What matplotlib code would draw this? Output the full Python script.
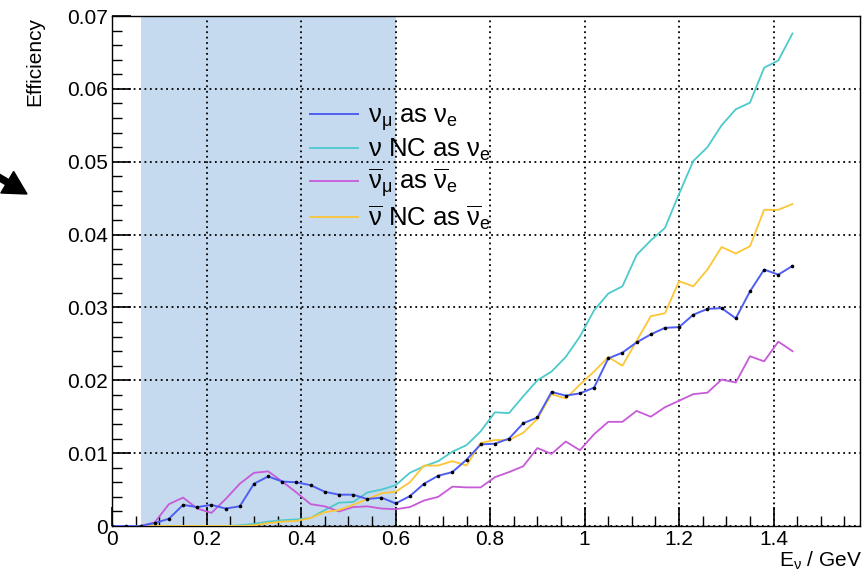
import numpy as np
import matplotlib
matplotlib.use("Agg")
import matplotlib.pyplot as plt
from matplotlib.ticker import MultipleLocator, FuncFormatter
from matplotlib.patches import FancyArrow
from matplotlib.transforms import IdentityTransform

plt.rcParams['font.family'] = ['Liberation Sans', 'DejaVu Sans']
plt.rcParams['mathtext.fontset'] = 'custom'
plt.rcParams['mathtext.rm'] = 'Liberation Sans'
plt.rcParams['mathtext.it'] = 'Liberation Sans'

# neutrino energy (GeV), one value per bin
energy = [0.00, 0.03, 0.06, 0.09, 0.12, 0.15, 0.18, 0.21, 0.24, 0.27,
          0.30, 0.33, 0.36, 0.39, 0.42, 0.45, 0.48, 0.51, 0.54, 0.57,
          0.60, 0.63, 0.66, 0.69, 0.72, 0.75, 0.78, 0.81, 0.84, 0.87,
          0.90, 0.93, 0.96, 0.99, 1.02, 1.05, 1.08, 1.11, 1.14, 1.17,
          1.20, 1.23, 1.26, 1.29, 1.32, 1.35, 1.38, 1.41, 1.44]

numu_as_nue = [0, 0, 0, 0.0004, 0.0010, 0.0029, 0.0026, 0.0029, 0.0024, 0.0027,
               0.0058, 0.0068, 0.0061, 0.0060, 0.0056, 0.0047, 0.0043, 0.0043, 0.0037, 0.0039,
               0.0031, 0.0041, 0.0058, 0.0069, 0.0074, 0.0091, 0.0112, 0.0113, 0.0120, 0.0141,
               0.0149, 0.0184, 0.0179, 0.0182, 0.0190, 0.0230, 0.0238, 0.0252, 0.0263, 0.0272,
               0.0273, 0.0290, 0.0298, 0.0299, 0.0285, 0.0322, 0.0352, 0.0345, 0.0357]

nc_as_nue = [0, 0, 0, 0, 0, 0, 0, 0, 0, 0.0001,
             0.0003, 0.0006, 0.0008, 0.0009, 0.0011, 0.0022, 0.0032, 0.0033, 0.0046, 0.0050,
             0.0056, 0.0073, 0.0082, 0.0089, 0.0102, 0.0111, 0.0130, 0.0156, 0.0155, 0.0178,
             0.0200, 0.0212, 0.0232, 0.0260, 0.0296, 0.0319, 0.0329, 0.0372, 0.0392, 0.0409,
             0.0456, 0.0501, 0.0520, 0.0550, 0.0572, 0.0581, 0.0629, 0.0639, 0.0676]

numubar_as_nuebar = [0, 0, 0, 0.0005, 0.0030, 0.0039, 0.0024, 0.0018, 0.0037, 0.0058,
                     0.0073, 0.0075, 0.0061, 0.0046, 0.0030, 0.0027, 0.0020, 0.0026, 0.0027, 0.0024,
                     0.0023, 0.0026, 0.0035, 0.0040, 0.0054, 0.0053, 0.0053, 0.0067, 0.0074, 0.0082,
                     0.0107, 0.0099, 0.0116, 0.0104, 0.0126, 0.0143, 0.0143, 0.0158, 0.0150, 0.0163,
                     0.0172, 0.0181, 0.0183, 0.0201, 0.0197, 0.0233, 0.0226, 0.0253, 0.0240]

ncbar_as_nuebar = [0, 0, 0, 0, 0, 0, 0, 0, 0, 0,
                   0.0001, 0.0004, 0.0006, 0.0007, 0.0011, 0.0019, 0.0022, 0.0029, 0.0037, 0.0045,
                   0.0047, 0.0060, 0.0083, 0.0083, 0.0089, 0.0083, 0.0114, 0.0118, 0.0118, 0.0128,
                   0.0147, 0.0181, 0.0175, 0.0194, 0.0212, 0.0232, 0.0220, 0.0254, 0.0288, 0.0292,
                   0.0336, 0.0329, 0.0352, 0.0383, 0.0374, 0.0384, 0.0434, 0.0434, 0.0442]

band = (0.06, 0.6)

fig = plt.figure(figsize=(8.64, 5.72), dpi=100)
ax = fig.add_axes([0.1299, 0.0804, 0.8655, 0.8916])

ax.axvspan(band[0], band[1], color='#c5daee', lw=0, zorder=0)

ax.plot(energy, numu_as_nue, color='#4f5ef2', lw=1.4,
        label=r'$\mathrm{\nu_{\mu}}$ as $\mathrm{\nu_{e}}$', zorder=5)
ax.plot(energy, numu_as_nue, ls='none', marker='o', ms=1.6, mfc='k', mec='k', zorder=6)
ax.plot(energy, nc_as_nue, color='#4ccacc', lw=1.3,
        label=r'$\mathrm{\nu}$ NC as $\mathrm{\nu_{e}}$', zorder=3)
ax.plot(energy, numubar_as_nuebar, color='#c75ad8', lw=1.3,
        label=r'$\mathrm{\overline{\nu}_{\mu}}$ as $\mathrm{\overline{\nu}_{e}}$', zorder=3)
ax.plot(energy, ncbar_as_nuebar, color='#fcc636', lw=1.3,
        label=r'$\mathrm{\overline{\nu}}$ NC as $\mathrm{\overline{\nu}_{e}}$', zorder=4)

ax.set_xlim(0, 1.583)
ax.set_ylim(0, 0.07)
ax.xaxis.set_major_locator(MultipleLocator(0.2))
ax.xaxis.set_minor_locator(MultipleLocator(0.05))
ax.yaxis.set_major_locator(MultipleLocator(0.01))
ax.yaxis.set_minor_locator(MultipleLocator(0.002))

fmt = FuncFormatter(lambda v, p: '0' if abs(v) < 1e-9 else ('%g' % round(v, 4)))
ax.xaxis.set_major_formatter(fmt)
ax.yaxis.set_major_formatter(fmt)

ax.tick_params(which='both', direction='in', top=False, right=False, labelsize=15, colors='k')
ax.tick_params(which='major', length=14, width=1.2)
ax.tick_params(which='minor', length=7, width=1.0)
ax.tick_params(axis='x', pad=3)
ax.tick_params(axis='y', pad=3)

ax.grid(True, which='major', color='k', linestyle=(0, (1, 2)), linewidth=1.3, zorder=1)
ax.set_axisbelow(False)
for s in ax.spines.values():
    s.set_linewidth(1.0)

fig.text(0.0405, 0.971, 'Efficiency', rotation=90, ha='center', va='top', fontsize=15)
fig.text(0.998, 0.009, r'E$_{\nu}$ / GeV', ha='right', va='baseline', fontsize=15)

leg = ax.legend(loc='upper left', bbox_to_anchor=(0.265, 0.828), frameon=False,
                fontsize=18.5, handlelength=1.85, handletextpad=0.4, labelspacing=0.15,
                borderpad=0, borderaxespad=0)

# arrow on the left edge (figure pixels, origin bottom-left)
fig.patches.append(FancyArrow(-20, 406, 47, -28, width=6, head_width=25, head_length=23,
                              length_includes_head=True, color='k',
                              transform=IdentityTransform(), figure=fig))

fig.savefig('out.png', dpi=100)
